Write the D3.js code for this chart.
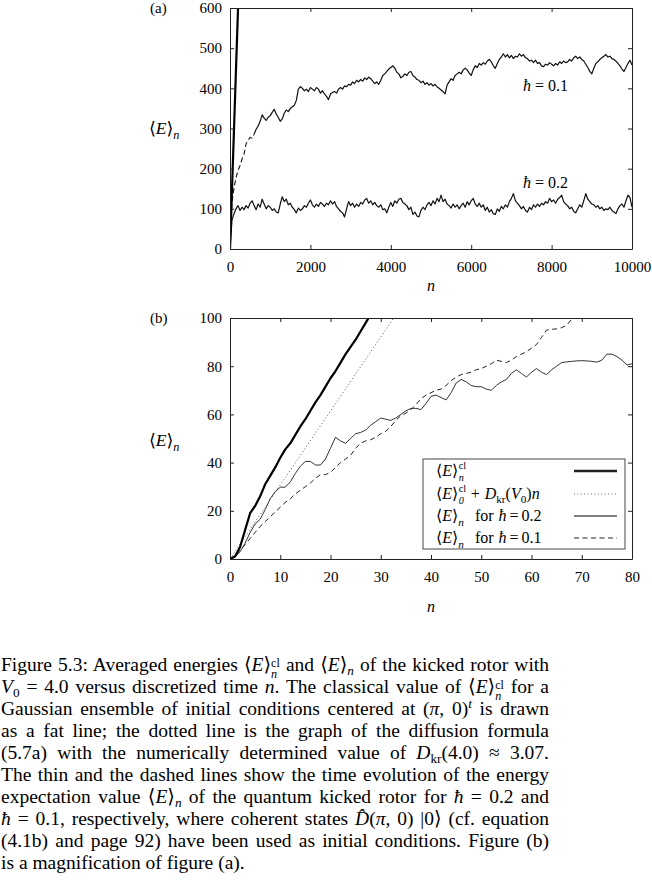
<!DOCTYPE html>
<html><head><meta charset="utf-8">
<script src="https://cdn.jsdelivr.net/npm/d3@7"></script>
<style>
html,body{margin:0;padding:0;background:#fff;}
#wrap{position:relative;width:652px;height:894px;overflow:hidden;background:#fff;}
svg{position:absolute;left:0;top:0;}
svg text{font-family:"Liberation Serif","DejaVu Serif",serif;fill:#000;white-space:pre;}
.cap{position:absolute;left:1px;width:548px;line-height:22px;font-family:"Liberation Serif","DejaVu Serif",serif;font-size:19.5px;text-align:justify;text-align-last:justify;color:#000;}
.cap.last{text-align:left;text-align-last:left;}
.cap sub{font-size:0.68em;vertical-align:-0.3em;line-height:0;}
.cap sup{font-size:0.68em;vertical-align:0.55em;line-height:0;}
.cap .st{display:inline-block;font-size:0.62em;line-height:0.85em;vertical-align:-0.55em;text-align:left;}
</style></head>
<body><div id="wrap"></div>
<script>
// ---------------- data ----------------
// panel (a): sampled every 50 kicks
const nStepA = 50;
const classicalA_n = [0, 200];
const classicalA_E = [0, 600];
const hbar01A = [
0,118,152,178,196,208,224,236,262,270,
278,276,286,298,306,318,334,326,320,328,
332,340,348,336,328,318,324,338,346,342,
350,354,358,370,398,404,400,394,398,392,
402,398,394,402,398,388,394,386,380,372,
386,390,392,388,398,402,398,406,404,410,
408,416,412,420,416,422,418,426,422,428,
424,418,412,416,410,420,432,436,442,448,
452,456,450,440,436,426,430,436,432,440,
442,432,428,422,420,414,418,410,414,408,
412,406,410,404,400,396,392,386,408,416,
424,420,432,436,440,436,446,450,446,438,
432,446,456,452,462,458,464,460,468,472,
466,456,450,462,472,478,486,478,484,476,
482,474,480,478,486,480,484,476,474,468,
470,464,470,462,464,456,454,460,458,464,
460,456,462,458,466,462,468,464,466,472,
468,476,480,474,478,472,468,460,452,442,
436,450,462,466,472,476,480,484,478,480,
474,472,468,462,456,448,442,452,462,470,
458];
const hbar02A = [
0,72,88,100,108,96,104,98,108,102,
114,120,108,98,112,104,124,112,100,108,
104,96,100,92,90,112,130,118,124,110,
114,104,98,90,102,96,100,108,104,114,
122,110,104,112,106,116,112,106,114,110,
120,112,118,106,100,94,90,80,100,118,
108,114,104,112,106,116,112,122,126,114,
120,110,116,108,104,110,98,100,90,104,
116,106,120,114,124,126,116,112,108,98,
104,86,92,82,80,96,104,98,110,116,
108,120,112,126,118,134,118,124,112,108,
102,112,104,110,100,108,114,104,118,110,
120,126,112,106,114,104,110,96,104,92,
98,88,86,100,94,106,100,110,104,118,
126,138,120,114,108,100,106,96,92,104,
98,110,104,112,106,114,110,118,114,126,
118,122,114,124,128,134,118,112,108,100,
104,94,90,100,110,104,120,138,124,118,
112,110,104,108,100,104,96,100,98,104,
96,92,88,100,108,112,104,120,134,128,
104];
// panel (b): one value per kick n = 0,1,2,...
const classicalB = [0,1,5,12,19,22,26,31,34.5,38,42,45.5,48,51.5,55,58,61.5,65,68,71.5,75,78,81.5,85,88,91,94.5,98,101.5];
const diffusionB_n = [0, 33];
const diffusionB_E = [0, 101.3];
const hbar02B = [
0,0.8,3,6.5,11,14.5,16.5,20.5,25,28,
29.8,29.8,32,35.5,38.5,40.5,40.5,39,39,41.5,
46,50.5,49,48,50,52,52.5,53.5,55.5,57,
58.5,58,57.5,58.5,60,61.5,62.5,62.5,62,64.5,
67.5,68,67,66,69,73,74.5,73.5,72,71.5,
71.5,70.5,70,72,73.5,74.5,77,78.5,77,75.5,
77.5,79,77.5,76.5,78.5,80,81.5,81.8,82,82.2,
82.3,82.2,82,81.7,82.5,85,85,84,82.5,80.5,
81];
const hbar01B = [
0,1.5,3.5,6,8.5,11,13.5,15.5,17.5,19.5,
21.5,23.5,25,27,28.5,30,31.5,33.5,35,35,
36,38,40,41.5,43,46,48,49,49.5,50.5,
52,53,55,57.5,59.5,60.5,62,64,66.5,68,
69,70,70.5,72,74,75.5,76.5,77,77.5,78.5,
79,80,81,82.5,82,81.5,82.5,84,85,86,
87.5,89,92,95,95.3,95.5,96,97,99.5,102];
// ticks
const xTicksA = [0,2000,4000,6000,8000,10000];
const yTicksA = [0,100,200,300,400,500,600];
const xTicksB = [0,10,20,30,40,50,60,70,80];
const yTicksB = [0,20,40,60,80,100];
// caption
const EN = '⟨<i>E</i>⟩<sub><i>n</i></sub>';
const ENCL = '⟨<i>E</i>⟩<span class="st">cl<br><i>n</i></span>';
const captionLines = [
 `Figure 5.3: Averaged energies ${ENCL} and ${EN} of the kicked rotor with`,
 `<i>V</i><sub>0</sub> = 4.0 versus discretized time <i>n</i>. The classical value of ${ENCL} for a`,
 `Gaussian ensemble of initial conditions centered at (<i>π</i>, 0)<sup><i>t</i></sup> is drawn`,
 `as a fat line; the dotted line is the graph of the diffusion formula`,
 `(5.7a) with the numerically determined value of <i>D</i><sub>kr</sub>(4.0) ≈ 3.07.`,
 `The thin and the dashed lines show the time evolution of the energy`,
 `expectation value ${EN} of the quantum kicked rotor for <i>ħ</i> = 0.2 and`,
 `<i>ħ</i> = 0.1, respectively, where coherent states <i>D̂</i>(<i>π</i>, 0) |0⟩ (cf. equation`,
 `(4.1b) and page 92) have been used as initial conditions. Figure (b)`,
 `is a magnification of figure (a).`
];

// ---------------- drawing ----------------
const wrap = d3.select("#wrap");
const svg = wrap.append("svg").attr("width",652).attr("height",894);
const A = {l:230, r:632, t:8, b:249};
const B = {l:230, r:632, t:318, b:559};
const xa = d3.scaleLinear().domain([0,10000]).range([A.l,A.r]);
const ya = d3.scaleLinear().domain([0,600]).range([A.b,A.t]);
const xb = d3.scaleLinear().domain([0,80]).range([B.l,B.r]);
const yb = d3.scaleLinear().domain([0,100]).range([B.b,B.t]);

const defs = svg.append("defs");
function clip(id,P){defs.append("clipPath").attr("id",id).append("rect").attr("x",P.l).attr("y",P.t).attr("width",P.r-P.l).attr("height",P.b-P.t);}
clip("ca",A); clip("cb",B);

function styleAxis(g){
  g.attr("font-family",'"Liberation Serif","DejaVu Serif",serif').attr("font-size",15).attr("color","#222");
  g.selectAll(".domain").attr("stroke-width",1);
}
function frame(x,y,P,xt,yt){
  svg.append("g").attr("transform",`translate(0,${P.b})`)
    .call(d3.axisBottom(x).tickValues(xt).tickSize(-4).tickSizeOuter(0).tickPadding(12).tickFormat(d3.format("d"))).call(styleAxis);
  svg.append("g").attr("transform",`translate(0,${P.t})`)
    .call(d3.axisTop(x).tickValues(xt).tickSize(-4).tickSizeOuter(0).tickFormat("")).call(styleAxis);
  svg.append("g").attr("transform",`translate(${P.l},0)`)
    .call(d3.axisLeft(y).tickValues(yt).tickSize(-4).tickSizeOuter(0).tickPadding(8).tickFormat(d3.format("d"))).call(styleAxis);
  svg.append("g").attr("transform",`translate(${P.r},0)`)
    .call(d3.axisRight(y).tickValues(yt).tickSize(-4).tickSizeOuter(0).tickFormat("")).call(styleAxis);
}

// math-ish text helper; y is baseline
function mathText(g,x,y,parts,size){
  const grp=g.append("g"); let cx=x;
  parts.forEach(p=>{
    if(p.stack){
      const a=grp.append("text").attr("x",cx+0.5).attr("y",y-size*0.45).attr("font-size",size*0.64).text(p.stack[0]);
      const b=grp.append("text").attr("x",cx+0.5).attr("y",y+size*0.32).attr("font-size",size*0.64).attr("font-style","italic").text(p.stack[1]);
      cx+=Math.max(a.node().getComputedTextLength(),b.node().getComputedTextLength())+1;
    } else {
      const fs=size*(p.s||1);
      const t=grp.append("text").attr("x",cx).attr("y",y+(p.dy||0)*size).attr("font-size",fs)
        .attr("font-style",p.i?"italic":"normal").text(p.t);
      cx+=t.node().getComputedTextLength()+(p.sp||0);
    }
  });
  return cx;
}
const Ebr=[{t:"⟨"},{t:"E",i:true},{t:"⟩"}];

// ---- panel (a)
const lineA = d3.line().x((d,i)=>xa(i*nStepA)).y(d=>ya(d));
const ga = svg.append("g").attr("clip-path","url(#ca)");
ga.append("path").datum(hbar02A).attr("d",lineA).attr("fill","none").attr("stroke","#111").attr("stroke-width",1.2).attr("stroke-linejoin","round");
const h01start = hbar01A.slice(0,13);
const h01rest = hbar01A.slice(12);
ga.append("path").datum(h01start).attr("d",lineA).attr("fill","none").attr("stroke","#111").attr("stroke-width",1.1).attr("stroke-dasharray","5,3");
ga.append("path").datum(h01rest).attr("d",d3.line().x((d,i)=>xa((i+12)*nStepA)).y(d=>ya(d))).attr("fill","none").attr("stroke","#111").attr("stroke-width",1.2).attr("stroke-linejoin","round");
ga.append("path").datum(classicalA_n.map((n,i)=>[n,classicalA_E[i]])).attr("d",d3.line().x(d=>xa(d[0])).y(d=>ya(d[1])))
  .attr("fill","none").attr("stroke","#000").attr("stroke-width",2.2);
frame(xa,ya,A,xTicksA,yTicksA);

// ---- panel (b)
const gb = svg.append("g").attr("clip-path","url(#cb)");
const lineB = d3.line().x((d,i)=>xb(i)).y(d=>yb(d));
gb.append("path").datum(diffusionB_n.map((n,i)=>[n,diffusionB_E[i]])).attr("d",d3.line().x(d=>xb(d[0])).y(d=>yb(d[1])))
  .attr("fill","none").attr("stroke","#555").attr("stroke-width",1).attr("stroke-dasharray","1,2.4");
gb.append("path").datum(hbar01B).attr("d",lineB).attr("fill","none").attr("stroke","#222").attr("stroke-width",1).attr("stroke-dasharray","5,3.5");
gb.append("path").datum(hbar02B).attr("d",lineB).attr("fill","none").attr("stroke","#333").attr("stroke-width",1);
gb.append("path").datum(classicalB).attr("d",lineB).attr("fill","none").attr("stroke","#000").attr("stroke-width",2.2).attr("stroke-linejoin","round");
frame(xb,yb,B,xTicksB,yTicksB);

// ---- labels
const tg = svg.append("g");
tg.append("text").attr("x",150).attr("y",13).attr("font-size",15).text("(a)");
tg.append("text").attr("x",150).attr("y",323).attr("font-size",15).text("(b)");
mathText(tg,149,134,[...Ebr,{t:"n",i:true,s:0.7,dy:0.3}],17.5);
mathText(tg,149,446,[...Ebr,{t:"n",i:true,s:0.7,dy:0.3}],17.5);
tg.append("text").attr("x",431).attr("y",291).attr("font-size",16).attr("font-style","italic").attr("text-anchor","middle").text("n");
tg.append("text").attr("x",431).attr("y",612).attr("font-size",16).attr("font-style","italic").attr("text-anchor","middle").text("n");
mathText(tg,523,91,[{t:"ħ",i:true,sp:4},{t:"=",sp:4},{t:"0.1"}],16);
mathText(tg,523,188,[{t:"ħ",i:true,sp:4},{t:"=",sp:4},{t:"0.2"}],16);

// ---- legend
const lg = svg.append("g");
lg.append("rect").attr("x",423).attr("y",459).attr("width",202).attr("height",90).attr("fill","#fff").attr("stroke","#444").attr("stroke-width",1);
const rows=[471,494,516,538];
const LS=16;
mathText(lg,436,rows[0]+5,[...Ebr,{stack:["cl","n"]}],LS);
mathText(lg,436,rows[1]+5,[...Ebr,{stack:["cl","0"]},{t:" + ",sp:1},{t:"D",i:true},{t:"kr",s:0.7,dy:0.25},{t:"("},{t:"V",i:true},{t:"0",s:0.7,dy:0.25},{t:")"},{t:"n",i:true}],LS);
mathText(lg,436,rows[2]+5,[...Ebr,{t:"n",i:true,s:0.7,dy:0.3,sp:3},{t:"  for ",sp:1},{t:"ħ",i:true,sp:3},{t:"=",sp:3},{t:"0.2"}],LS);
mathText(lg,436,rows[3]+5,[...Ebr,{t:"n",i:true,s:0.7,dy:0.3,sp:3},{t:"  for ",sp:1},{t:"ħ",i:true,sp:3},{t:"=",sp:3},{t:"0.1"}],LS);
const sty=[{w:2.4,c:"#222",d:null},{w:1,c:"#666",d:"1,2.4"},{w:1.3,c:"#555",d:null},{w:1,c:"#222",d:"5,3.5"}];
rows.forEach((ry,i)=>{
  lg.append("line").attr("x1",574).attr("x2",617).attr("y1",ry).attr("y2",ry)
    .attr("stroke",sty[i].c).attr("stroke-width",sty[i].w).attr("stroke-dasharray",sty[i].d);
});

// ---- caption
captionLines.forEach((html,i)=>{
  const div = wrap.append("div").attr("class","cap"+(i===captionLines.length-1?" last":""))
    .style("top",(665+22*i-11)+"px").html(html);
  let fs = 19.5;
  while (div.node().getBoundingClientRect().height > 30 && fs > 12) { fs -= 0.25; div.style("font-size", fs+"px"); }
});
</script>
</body></html>
